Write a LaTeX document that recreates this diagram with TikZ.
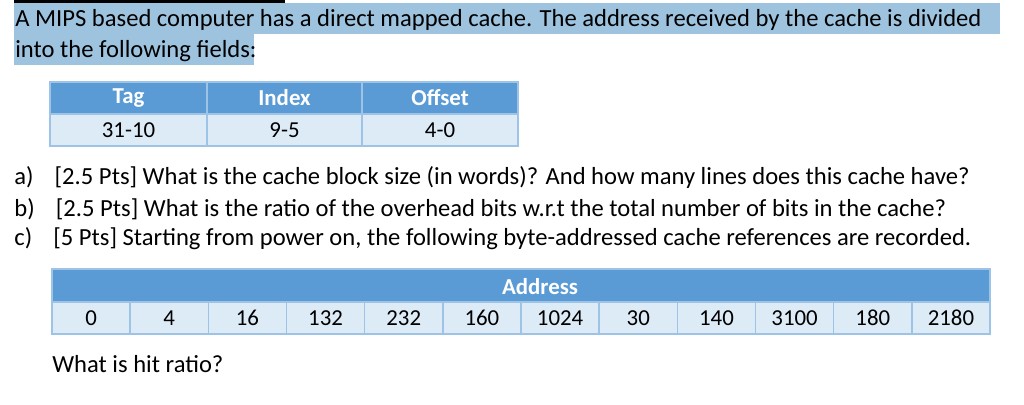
\documentclass[tikz,border=0pt]{standalone}
\usepackage{fontspec}
\setmainfont{Carlito}
\definecolor{hdrblue}{HTML}{5B9BD5}
\definecolor{cellblue}{HTML}{DDEBF7}
\definecolor{lineblue}{HTML}{9DC3E6}
\definecolor{marked}{HTML}{9DC3DF}
\begin{document}
\begin{tikzpicture}[x=0.02cm, y=-0.02cm,
    txt/.style={anchor=base west, inner sep=0pt, font=\fontsize{14}{16}\selectfont},
    hdr/.style={fill=hdrblue, draw=lineblue, line width=0.8pt},
    cell/.style={fill=cellblue, draw=lineblue, line width=0.8pt},
    hdrtxt/.style={text=white, font=\bfseries\fontsize{13}{15}\selectfont},
    celltxt/.style={font=\fontsize{13}{15}\selectfont}]
    \useasboundingbox (0,0) rectangle (1024,405);
    % Question text
    \fill (14,0) rectangle (285,3);
    \fill[marked] (14,3) rectangle (1000,34);
    \fill[marked] (14,34) rectangle (254,65);
    \node[txt] (q1) at (15,27) {A MIPS based computer has a direct mapped cache. The address received by the cache is divided};
    \node[txt] (q2) at (15,58) {into the following fields:};
    % Address fields
    \foreach \i/\a/\b/\h/\v in {0/50/207/Tag/31-10, 1/207/362/Index/9-5, 2/362/518/Offset/4-0} {
        \draw[hdr] (\a,82) rectangle (\b,114);
        \draw[cell] (\a,114) rectangle (\b,146);
        \node[hdrtxt] (f\i) at ({(\a+\b)/2},98) {\h};
        \node[celltxt] (b\i) at ({(\a+\b)/2},130) {\v};
    }
    % Parts
    \node[txt] (pa) at (14,185) {a)\hspace{12pt}[2.5 Pts] What is the cache block size (in words)? And how many lines does this cache have?};
    \node[txt] (pb) at (14,216) {b)\hspace{12pt}[2.5 Pts] What is the ratio of the overhead bits w.r.t the total number of bits in the cache?};
    \node[txt] (pc) at (14,246) {c)\hspace{12pt}[5 Pts] Starting from power on, the following byte-addressed cache references are recorded.};
    % Address trace
    \draw[hdr] (52,269) rectangle (990,302);
    \node[hdrtxt] (addr) at (540,287) {Address};
    \foreach \v [count=\i from 0] in {0,4,16,132,232,160,1024,30,140,3100,180,2180} {
        \draw[cell] ({52+78.17*\i},302) rectangle ({52+78.17*(\i+1)},334);
        \node[celltxt] (r\i) at ({52+78.17*(\i+0.5)},318) {\v};
    }
    \node[txt] (hit) at (52,372) {What is hit ratio?};
\end{tikzpicture}
\end{document}
